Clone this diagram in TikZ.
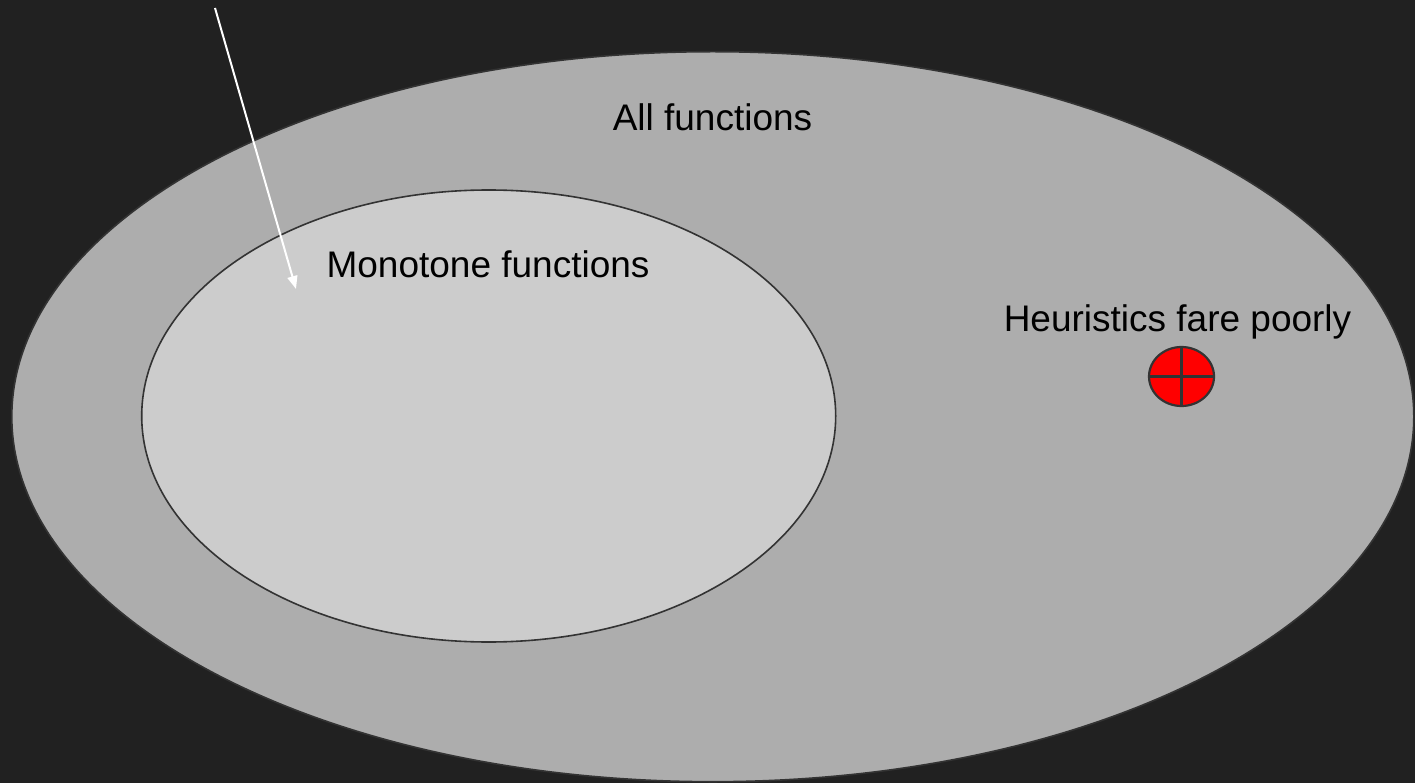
\documentclass[tikz,border=0pt]{standalone}
\usepackage{fontspec}
\setmainfont{Liberation Sans}
\usetikzlibrary{arrows.meta}
\definecolor{bgdark}{HTML}{212121}
\definecolor{outerfill}{HTML}{ADADAD}
\definecolor{innerfill}{HTML}{CCCCCC}
\definecolor{edge}{HTML}{333333}
\definecolor{dotred}{HTML}{FF0000}
\tikzset{
  setshape/.style={draw=edge, line width=1.6pt},
  markerline/.style={draw=edge, line width=2.2pt},
  label/.style={font=\fontsize{37}{44}\selectfont, text=black, inner sep=0pt, anchor=base},
  pointer/.style={draw=white, line width=2pt, -{Triangle[length=13pt,width=10pt]}},
}
\begin{document}
\begin{tikzpicture}[x=1pt, y=-1pt]
  % canvas
  \fill[bgdark] (0,0) rectangle (1415,783);
  \useasboundingbox (0,0) rectangle (1415,783);
  % set of all functions
  \draw[setshape, fill=outerfill] (712.8,416.7) ellipse [x radius=701, y radius=365];
  % monotone subset
  \draw[setshape, fill=innerfill] (488.7,416) ellipse [x radius=347, y radius=226];
  % hard instance marker
  \coordinate (dot) at (1181.5,376.5);
  \draw[markerline, fill=dotred] (dot) ellipse [x radius=32.5, y radius=29.5];
  \draw[markerline] ([xshift=-32.5pt]dot) -- ([xshift=32.5pt]dot);
  \draw[markerline] ([yshift=-29.5pt]dot) -- ([yshift=29.5pt]dot);
  % labels
  \node[label] (allf) at (712.5,131) {All functions};
  \node[label] (mono) at (488,277.7) {Monotone functions};
  \node[label] (heur) at (1177.5,331) {Heuristics fare poorly};
  % pointer into the monotone set
  \coordinate (ptrstart) at (215,8);
  \coordinate (ptrend) at (296,289);
  \draw[pointer] (ptrstart) -- (ptrend);
\end{tikzpicture}
\end{document}
